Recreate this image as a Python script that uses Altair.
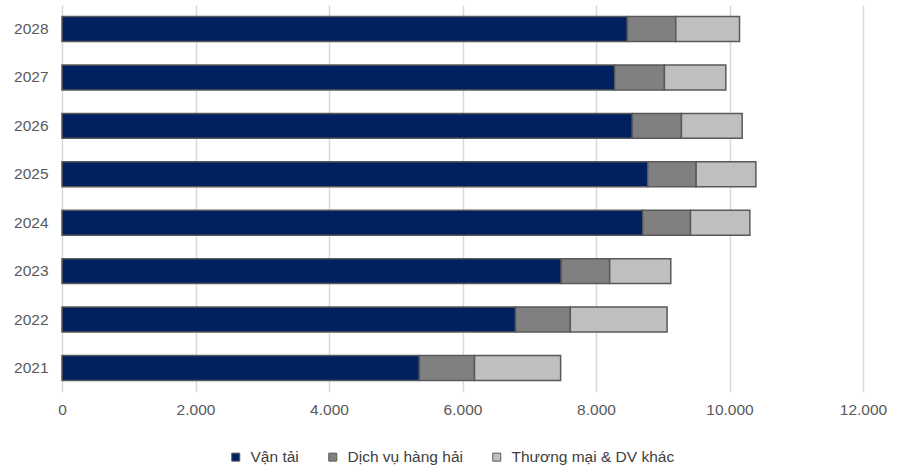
import altair as alt
import pandas as pd

years = ["2021", "2022", "2023", "2024", "2025", "2026", "2027", "2028"]
van_tai = [5355, 6795, 7480, 8700, 8775, 8545, 8280, 8470]
dich_vu = [825, 820, 725, 715, 725, 735, 745, 725]
thuong_mai = [1290, 1450, 915, 890, 895, 910, 920, 955]
series = ["Vận tải", "Dịch vụ hàng hải", "Thương mại & DV khác"]
colors = ["#002060", "#808080", "#bfbfbf"]

rows = []
for i, y in enumerate(years):
    for k, (name, vals) in enumerate(zip(series, [van_tai, dich_vu, thuong_mai])):
        rows.append({"year": y, "series": name, "value": vals[i], "order": k})
df = pd.DataFrame(rows)

FONT = "Liberation Sans"
FS = 15.5

chart = alt.Chart(df).mark_bar(stroke="#595959", strokeWidth=1.5).encode(
    y=alt.Y("year:N", sort=years[::-1], title=None,
            scale=alt.Scale(paddingInner=0.485, paddingOuter=0.24),
            axis=alt.Axis(domain=False, ticks=False, labelPadding=14,
                          labelFontSize=FS, labelColor="#595959", labelFont=FONT)),
    x=alt.X("value:Q", stack="zero", title=None,
            scale=alt.Scale(domain=[0, 12000], nice=False),
            axis=alt.Axis(values=[0, 2000, 4000, 6000, 8000, 10000, 12000],
                          labelExpr="replace(format(datum.value, ','), ',', '.')",
                          labelFlush=False,
                          domain=False, ticks=False, grid=True, gridColor="#d9d9d9",
                          gridWidth=1.5, labelPadding=10, labelFontSize=FS,
                          labelColor="#595959", labelFont=FONT)),
    color=alt.Color("series:N", sort=series,
                    scale=alt.Scale(domain=series, range=colors),
                    legend=alt.Legend(title=None, orient="none", direction="horizontal",
                                      legendX=166, legendY=444,
                                      symbolType="square", symbolSize=64,
                                      symbolStrokeColor="#595959", symbolStrokeWidth=1,
                                      labelFontSize=FS, labelColor="#404040", labelFont=FONT,
                                      labelLimit=400,
                                      labelOffset=7, columnPadding=26)),
    order=alt.Order("order:Q"),
).properties(
    width=801, height=387,
    padding={"left": 62, "top": 5, "right": 40, "bottom": 78},
    autosize=alt.AutoSizeParams(type="none"),
).configure_view(stroke=None)

chart.save("out.html", embed_options={"renderer": "svg", "actions": False})
